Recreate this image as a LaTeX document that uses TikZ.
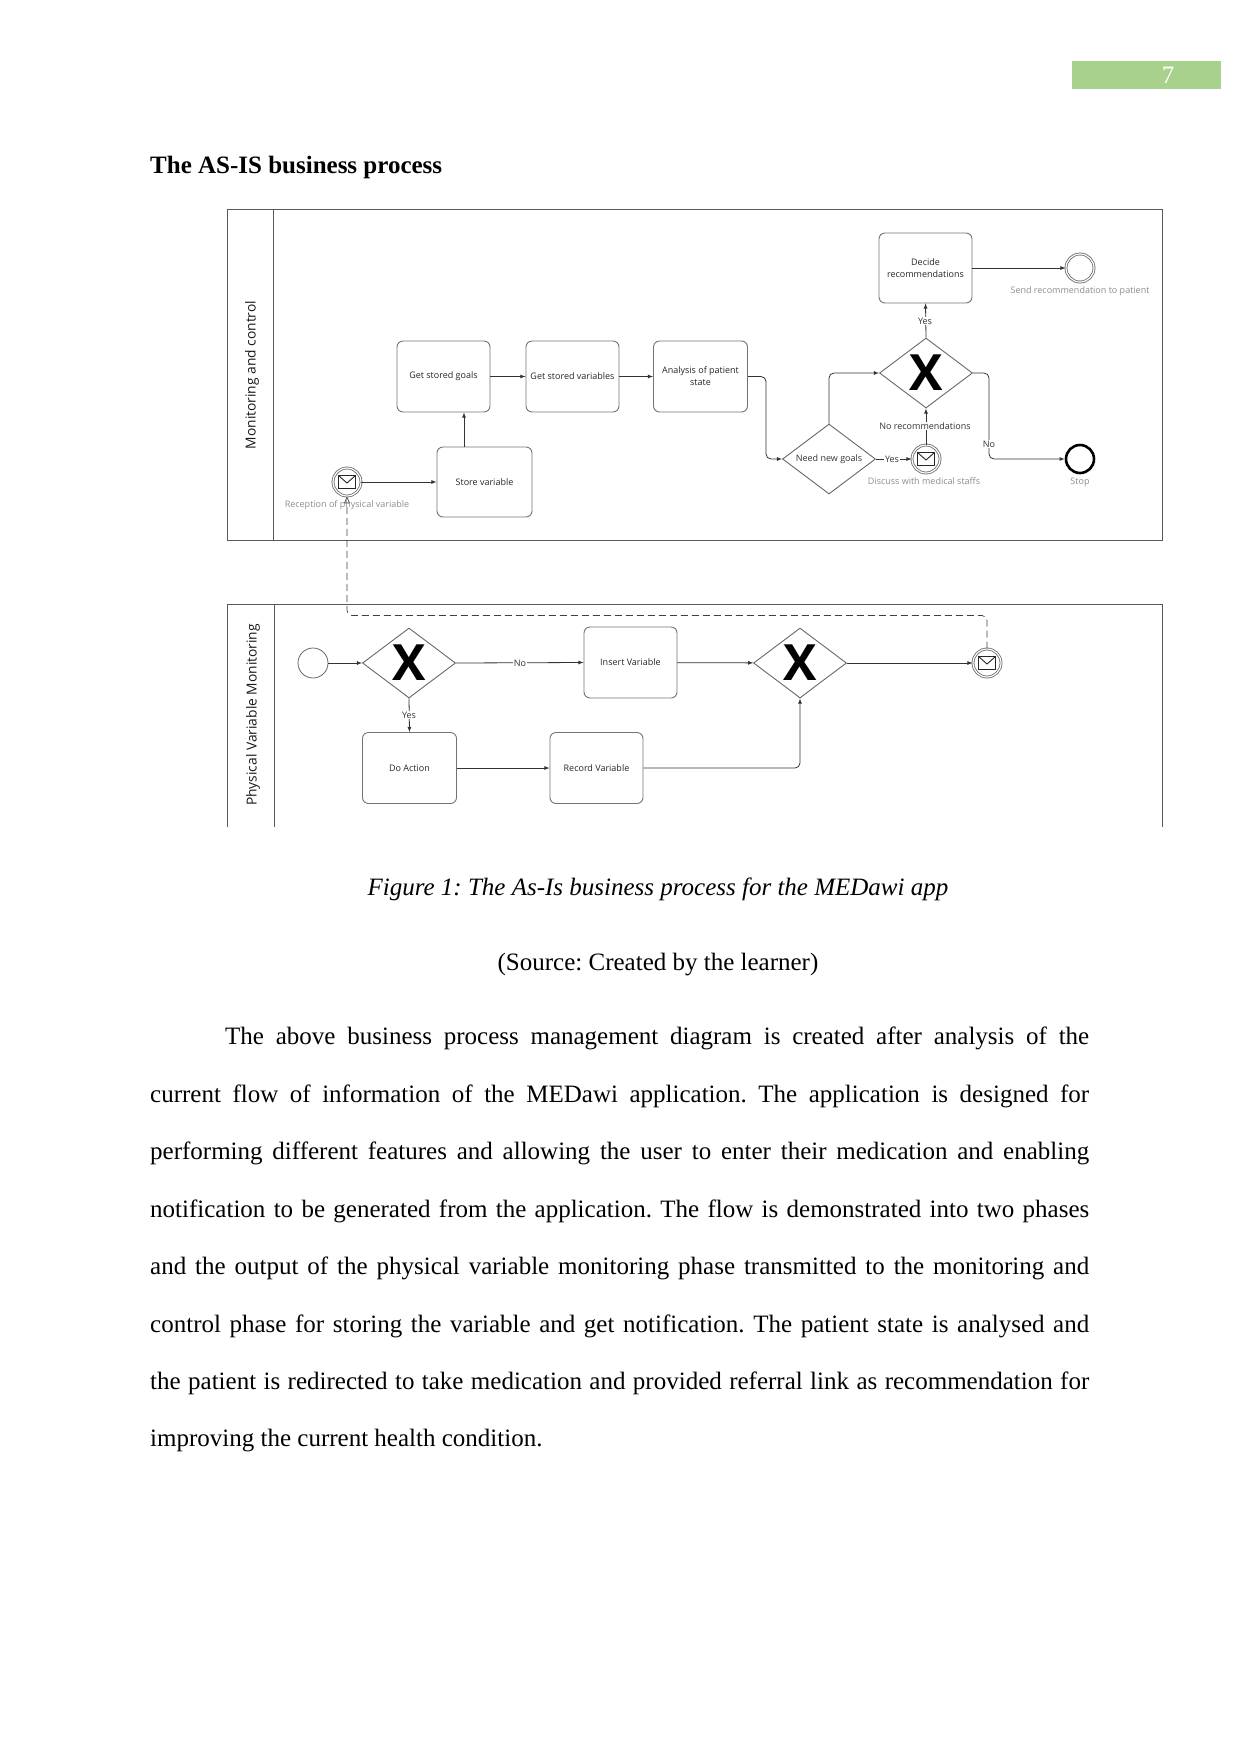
\documentclass[tikz,border=0pt]{standalone}
\usepackage{fontspec}
\setmainfont{Liberation Serif}
\newfontfamily\diagfont{Open Sans}
\usepackage{tikz}
\usetikzlibrary{shapes.geometric,arrows.meta}
\definecolor{headgreen}{HTML}{A9D18E}
\frenchspacing
\tikzset{
  pool/.style={draw=black!65,line width=1pt},
  task/.style={draw=black!55,line width=0.9pt,rounded corners=6pt,minimum width=93pt,minimum height=71pt,inner sep=1pt,align=center,text=black!85,font=\diagfont\fontsize{9}{12}\selectfont},
  gateway/.style={diamond,draw=black!60,line width=0.9pt,minimum width=93pt,minimum height=70pt,inner sep=0pt},
  gatex/.style={inner sep=0pt,text=black,font=\diagfont\bfseries\fontsize{50}{50}\selectfont},
  event/.style={circle,draw=black!60,line width=0.8pt,minimum size=30pt,inner sep=0pt},
  dblevent/.style={event,double,double distance=1.2pt,minimum size=28pt},
  stopevent/.style={circle,draw=black,line width=2.6pt,minimum size=28pt,inner sep=0pt},
  flow/.style={draw=black!80,line width=0.8pt,-latex,rounded corners=5pt},
  msgflow/.style={draw=black!75,line width=0.7pt,dashed,dash pattern=on 7pt off 4pt,-{Triangle[open,length=7pt,width=6pt]},rounded corners=5pt},
  envelope/.style={draw=black!85,line width=0.9pt},
  flowlab/.style={fill=white,inner sep=1pt,text=black!80,font=\diagfont\fontsize{9}{10}\selectfont},
  evlab/.style={inner sep=0pt,text=black!45,font=\diagfont\fontsize{9}{10}\selectfont},
  poollab/.style={rotate=90,inner sep=0pt,text=black!90,font=\diagfont\fontsize{13.8}{15}\selectfont},
  bodytext/.style={inner sep=0pt,font=\fontsize{25}{30}\selectfont},
}
\begin{document}
\begin{tikzpicture}[x=1pt,y=-1pt]
\useasboundingbox (0,0) rectangle (1241,1754);

% page number
\node[fill=headgreen,minimum width=149pt,minimum height=28pt,inner sep=0pt] (headbar) at (1146.5,75) {};
\node[bodytext,text=white] (pagenum) at (1168,75) {7};
\node[bodytext,anchor=base west] (heading) at (150,173) {\textbf{The AS-IS business process}};

% pools
\draw[pool] (227.5,209.5) rectangle (1162,540);
\draw[pool] (273.5,209.5) -- (273.5,540);
\draw[pool] (227.5,827) |- (1162,604) -- (1162,827);
\draw[pool] (274.5,604) -- (274.5,827);
\node[poollab] (monlab) at (252,375) {Monitoring and control};
\node[poollab] (physlab) at (253,715) {Physical Variable Monitoring};

% monitoring and control
\node[task] (goals) at (443.5,376.5) {Get stored goals};
\node[task] (vars) at (572.5,376.5) {Get stored variables};
\node[task,minimum width=94pt] (analysis) at (700.5,376.5) {Analysis of patient\\state};
\node[task,minimum width=95pt,minimum height=70pt] (store) at (484.5,482) {Store variable};
\node[task,minimum height=70pt] (decide) at (925.5,268) {Decide\\recommendations};
\node[dblevent] (recv) at (347,482) {};
\node[dblevent] (discuss) at (926,459) {};
\node[dblevent] (send) at (1080,268) {};
\node[stopevent] (stop) at (1080,459) {};
\node[gateway] (xgw) at (926,373) {};
\node[gatex] (xgwmark) at (926,373) {X};
\node[gateway] (need) at (829,459) {};
\node[flowlab,fill=none] (needlab) at (829,459) {Need new goals};

\coordinate (stgo) at (464,447);
\coordinate (anbend) at (766,459);
\coordinate (nobend) at (989,373);
\draw[flow] (recv) -- (store);
\draw[flow] (stgo) -- (stgo |- goals.south);
\draw[flow] (goals) -- (vars);
\draw[flow] (vars) -- (analysis);
\draw[flow] (analysis.east) -| (anbend) -- (need.west);
\draw[flow] (need.north) |- (xgw.west);
\draw[flow] (need.east) -- (discuss.west);
\draw[flow] (discuss.north) -- (xgw.south);
\draw[flow] (xgw.north) -- (decide.south);
\draw[flow] (decide.east) -- (send.west);
\draw[flow] (xgw.east) -- (nobend) |- (stop.west);

\node[flowlab] (yestop) at (925,321) {Yes};
\node[flowlab] (norec) at (925,426) {No recommendations};
\node[flowlab] (yesmsg) at (892,459) {Yes};
\node[flowlab] (nostop) at (989,444) {No};
\node[evlab] (sendlab) at (1080,291) {Send recommendation to patient};
\node[evlab] (discusslab) at (924,481.5) {Discuss with medical staffs};
\node[evlab] (stoplab) at (1080,482) {Stop};

% physical variable monitoring
\node[event] (start) at (313,663) {};
\node[gateway] (gwa) at (409,663) {};
\node[gatex] (gwamark) at (409,663) {X};
\node[gateway] (gwb) at (800,663) {};
\node[gatex] (gwbmark) at (800,663) {X};
\node[task] (insert) at (630.5,662.5) {Insert Variable};
\node[task,minimum width=94pt] (action) at (409.5,768) {Do Action};
\node[task] (record) at (596.5,768) {Record Variable};
\node[dblevent] (endmsg) at (987,663) {};

\draw[flow] (start) -- (gwa);
\draw[flow] (gwa.east) -- (insert.west);
\draw[flow] (insert) -- (gwb);
\draw[flow] (gwb.east) -- (endmsg.west);
\draw[flow] (gwa.south) -- (action.north);
\draw[flow] (action) -- (record);
\draw[flow] (record.east) -| (gwb.south);
\node[flowlab] (yesact) at (409,715) {Yes};
\node[flowlab] (noins) at (520,663) {No};

% envelopes
\foreach \ev in {recv,discuss,endmsg}{
  \draw[envelope] ([shift={(-8.5,-6.5)}]\ev.center) rectangle ([shift={(8.5,6.5)}]\ev.center);
  \draw[envelope] ([shift={(-8.5,-6.5)}]\ev.center) -- ([shift={(0,1)}]\ev.center) -- ([shift={(8.5,-6.5)}]\ev.center);
}

% message link between the pools
\coordinate (dashtop) at (347,615.5);
\draw[msgflow] (endmsg.north) |- (dashtop) -- (recv.south);
\node[evlab] (recvlab) at (347,505) {Reception of physical variable};

% text under the figure
\node[bodytext,anchor=base] (caption) at (658,895) {\textit{Figure 1: The As-Is business process for the MEDawi app}};
\node[bodytext,anchor=base] (source) at (658,970) {(Source: Created by the learner)};
\node[bodytext,anchor=north west,text width=939pt,align=justify,font=\fontsize{25}{57.45}\selectfont] (para) at (150,1027) {%
\hspace*{75pt}The above business process management diagram is created after analysis of the\linebreak
current flow of information of the MEDawi application. The application is designed for\linebreak
performing different features and allowing the user to enter their medication and enabling\linebreak
notification to be generated from the application. The flow is demonstrated into two phases\linebreak
and the output of the physical variable monitoring phase transmitted to the monitoring and\linebreak
control phase for storing the variable and get notification. The patient state is analysed and\linebreak
the patient is redirected to take medication and provided referral link as recommendation for\linebreak
improving the current health condition.};
\end{tikzpicture}
\end{document}
